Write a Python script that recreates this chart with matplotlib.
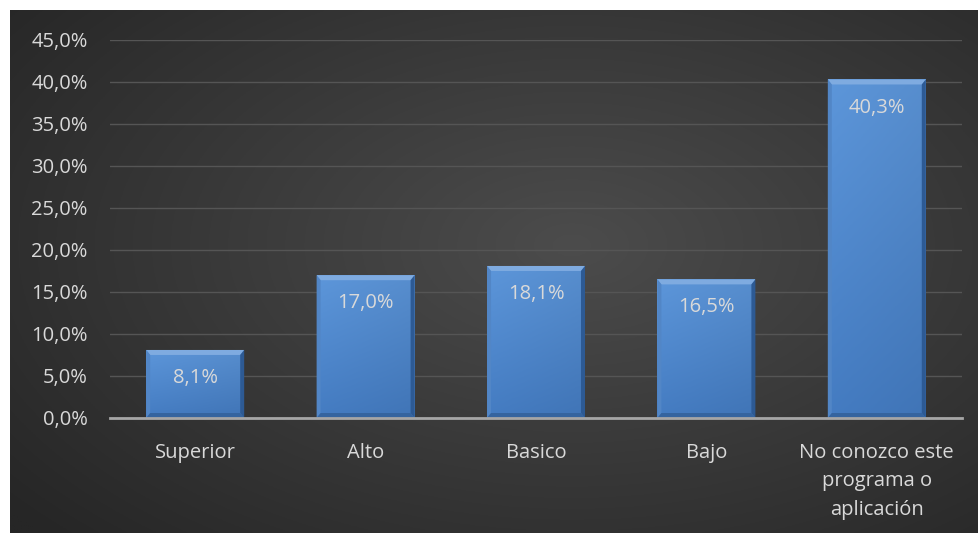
import numpy as np
import matplotlib
matplotlib.use("Agg")
import matplotlib.pyplot as plt
from matplotlib.patches import Polygon
from matplotlib.ticker import FuncFormatter

categorias = ["Superior", "Alto", "Basico", "Bajo",
              "No conozco este\nprograma o\naplicación"]
valores = [8.1, 17.0, 18.1, 16.5, 40.3]
etiquetas = ["8,1%", "17,0%", "18,1%", "16,5%", "40,3%"]

plt.rcParams['font.family'] = ['Open Sans', 'DejaVu Sans']

W, H = 979, 533
fig = plt.figure(figsize=(W/100, H/100), dpi=100)
fig.patch.set_facecolor("white")

#
# fundo com gradiente radial
#
bg = fig.add_axes([10/W, 0, (W-10)/W, (H-10)/H])
bg.set_axis_off()
yy, xx = np.mgrid[0:1:300j, 0:1:550j]
r = np.sqrt(((xx-0.58)/0.75)**2 + ((yy-0.45)/0.8)**2)
r = np.clip(r, 0, 1)
c_in = np.array([0x4c, 0x4c, 0x4c])/255
c_out = np.array([0x26, 0x26, 0x26])/255
img = c_in[None, None, :]*(1-r[..., None]) + c_out[None, None, :]*r[..., None]
bg.imshow(img, aspect="auto", extent=[0, 1, 0, 1], origin="upper")

#
# eixo principal
#
ax = fig.add_axes([110/W, (H-418)/H, (962-110)/W, (418-40)/H])
ax.patch.set_alpha(0)
x = np.arange(len(valores))
largura = 0.575
barras = ax.bar(x, valores, width=largura, color="#4a82c6", zorder=3)

ax.set_xlim(-0.5, len(valores)-0.5)
ax.set_ylim(0, 45)
ax.set_yticks(np.arange(0, 46, 5))
ax.yaxis.set_major_formatter(FuncFormatter(lambda v, p: f"{v:.1f}%".replace(".", ",")))
ax.set_xticks(x)
ax.set_xticklabels(categorias, linespacing=1.55)
ax.grid(axis="y", color="#555555", linewidth=1, zorder=0)
for s in ["top", "right", "left"]:
    ax.spines[s].set_visible(False)
ax.spines["bottom"].set_color("#a6a6a6")
ax.spines["bottom"].set_linewidth(2)
ax.spines["bottom"].set_zorder(5)
ax.tick_params(axis="both", length=0, colors="#d9d9d9", labelsize=14.5)
ax.tick_params(axis="y", pad=16)
ax.tick_params(axis="x", pad=18)

#
# efeito bisel nas barras
#
gy, gx = np.mgrid[0:1:100j, 0:1:50j]
grad = np.zeros((100, 50, 3))
topo = np.array([0x5a, 0x92, 0xd4])/255
base = np.array([0x42, 0x78, 0xbc])/255
for k in range(3):
    grad[..., k] = topo[k]*(1-gy) + base[k]*gy
grad = grad*(1.03 - 0.06*gx[..., None])
grad = np.clip(grad, 0, 1)

bx = 4/170.5
by = 5*5/42
for b in barras:
    x0 = b.get_x()
    x1 = x0 + b.get_width()
    h = b.get_height()
    im = ax.imshow(grad, extent=[x0, x1, 0, h], aspect="auto", zorder=3.1,
                   origin="upper")
    im.set_clip_path(b)
    ax.add_patch(Polygon([[x0, h], [x1, h], [x1-bx, h-by], [x0+bx, h-by]],
                         closed=True, color="#7fabe0", lw=0, zorder=3.2))
    ax.add_patch(Polygon([[x0, h], [x0+bx, h-by], [x0+bx, by], [x0, 0]],
                         closed=True, color="#5286c6", lw=0, zorder=3.2))
    ax.add_patch(Polygon([[x1, h], [x1-bx, h-by], [x1-bx, by], [x1, 0]],
                         closed=True, color="#2d5a94", lw=0, zorder=3.2))
    ax.add_patch(Polygon([[x0, 0], [x0+bx, by], [x1-bx, by], [x1, 0]],
                         closed=True, color="#35649f", lw=0, zorder=3.2))

for xi, v, t in zip(x, valores, etiquetas):
    ax.annotate(t, (xi, v), xytext=(0, -13), textcoords="offset points",
                ha="center", va="top", color="#d9d9d9", fontsize=14.5, zorder=6)

fig.savefig("out.png", dpi=100)
